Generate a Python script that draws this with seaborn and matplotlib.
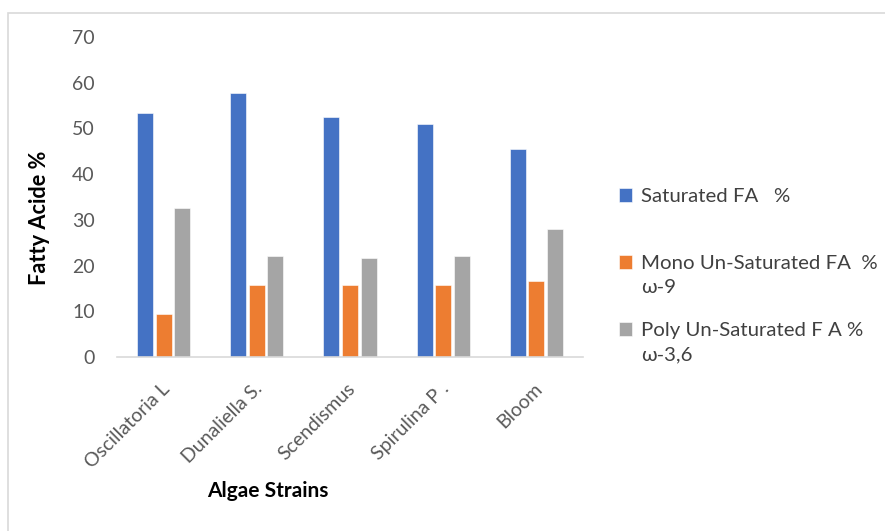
import matplotlib
matplotlib.use("Agg")
import matplotlib.pyplot as plt
from matplotlib.patches import Rectangle
from matplotlib.transforms import ScaledTranslation
import seaborn as sns
import pandas as pd

# Fatty acid composition per algae strain (%)
strains = ["Oscillatoria L", "Dunaliella S.", "Scendismus", "Spirulina P .", "Bloom"]
saturated = [53.3, 57.7, 52.4, 51.0, 45.4]
mono_unsat = [9.4, 15.7, 15.7, 15.7, 16.6]
poly_unsat = [32.7, 22.1, 21.7, 22.1, 27.9]

series_names = ["Saturated FA   %", "Mono Un-Saturated FA  %", "Poly Un-Saturated F A %"]
series_sublines = ["", "ω-9", "ω-3,6"]
colors = ["#4472C4", "#ED7D31", "#A5A5A5"]

df = pd.DataFrame({
    "strain": strains * 3,
    "value": saturated + mono_unsat + poly_unsat,
    "series": [series_names[0]] * 5 + [series_names[1]] * 5 + [series_names[2]] * 5,
})

sns.set_style("white")
plt.rcParams["font.family"] = ["Lato", "DejaVu Sans"]

W, H = 885, 531
fig = plt.figure(figsize=(W / 100, H / 100), dpi=100)
ax = fig.add_axes([117 / W, 1 - 357 / H, (583 - 117) / W, (357 - 37) / H])

sns.barplot(data=df, x="strain", y="value", hue="series", hue_order=series_names,
            palette=colors, saturation=1, width=0.6, gap=0.14, ax=ax,
            edgecolor="white", linewidth=0.4)

ax.set_ylim(0, 70)
ax.set_yticks(range(0, 71, 10))
ax.set_xlim(-0.5, 4.5)
for side in ["top", "right", "left"]:
    ax.spines[side].set_visible(False)
ax.spines["bottom"].set_color("#D9D9D9")
ax.spines["bottom"].set_linewidth(1.2)
ax.tick_params(axis="y", length=0, pad=16, labelsize=14, labelcolor="#595959")
ax.tick_params(axis="x", length=0, pad=0, labelsize=14, labelcolor="#595959")
shift = ScaledTranslation(3 / 100, -29 / 100, fig.dpi_scale_trans)
for lbl in ax.get_xticklabels():
    lbl.set_rotation(45)
    lbl.set_ha("right")
    lbl.set_va("center")
    lbl.set_rotation_mode("anchor")
    lbl.set_transform(lbl.get_transform() + shift)
ax.set_xlabel("")
ax.set_ylabel("")

fig.text(40 / W, 1 - 218 / H, "Fatty Acide %", rotation=90, ha="center", va="center",
         fontsize=15.7, fontweight="bold", color="black")
fig.text(268 / W, 1 - 491 / H, "Algae Strains", ha="center", va="center",
         fontsize=15, fontweight="bold", color="black")

handles, labels = ax.get_legend_handles_labels()
if ax.get_legend() is not None:
    ax.get_legend().remove()
leg = fig.legend(handles, labels, loc="upper left", bbox_to_anchor=(619 / W, 1 - 188 / H),
                 frameon=False, fontsize=14.7, labelcolor="#404040",
                 handlelength=0.65, handleheight=0.65, handletextpad=0.42,
                 labelspacing=2.45, borderpad=0, borderaxespad=0)

# Second line of each legend entry, placed under its first line
fig.canvas.draw()
renderer = fig.canvas.get_renderer()
inv = fig.transFigure.inverted()
for txt, sub in zip(leg.get_texts(), series_sublines):
    if not sub:
        continue
    bb = txt.get_window_extent(renderer)
    x0, y0 = inv.transform((bb.x0, bb.y0 - 24))
    fig.text(x0, y0, sub, ha="left", va="bottom", fontsize=14.7, color="#404040")

# Light outer frame of the chart area
fig.patches.append(Rectangle((8 / W, -0.05), 1.2, 1.05 - 13 / H, transform=fig.transFigure,
                             fill=False, edgecolor="#D9D9D9", linewidth=1.2, zorder=0))

fig.savefig("out.png", dpi=100, facecolor="white")
